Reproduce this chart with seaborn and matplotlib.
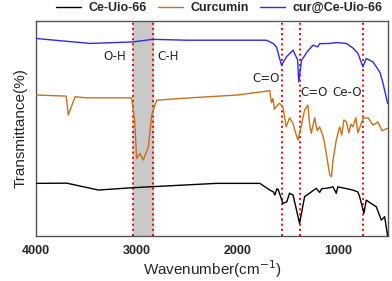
import matplotlib
matplotlib.use("Agg")
import matplotlib.pyplot as plt
import seaborn as sns

# FTIR spectra, values (arbitrary transmittance units)
wn_mof = [4000, 3695, 3380, 3035, 2206, 1775, 1676, 1640, 1626, 1605, 1593, 1546, 1507,
          1480, 1445, 1380, 1330, 1214, 1180, 1160, 1100, 1048, 1015, 1000, 850, 800,
          783, 740, 717, 617, 567, 534, 505]
t_mof = [24.5, 24.6, 21.4, 22.5, 24.5, 24.5, 21.4, 20.5, 19.1, 22.0, 21.7, 15.2, 15.9,
         19.9, 19.1, 5.9, 18.3, 22.2, 20.3, 22.0, 22.3, 22.9, 19.9, 22.9, 21.4, 20.5,
         18.3, 10.6, 16.7, 13.6, 7.4, 9.0, 0.0]

wn_cur = [4000, 3700, 3680, 3612, 3500, 3050, 3020, 3000, 2967, 2934, 2884, 2850, 2802,
          2500, 2000, 1676, 1660, 1645, 1630, 1612, 1580, 1546, 1513, 1480, 1445, 1420,
          1396, 1360, 1330, 1297, 1280, 1264, 1230, 1205, 1181, 1150, 1131, 1080, 1063,
          1048, 1015, 982, 960, 940, 915, 890, 870, 850, 820, 800, 750, 700, 650, 600,
          560, 505]
t_cur = [65.6, 65.1, 56.3, 64.8, 64.3, 64.3, 53.9, 36.1, 38.5, 35.3, 41.5, 56.3, 63.2,
         64.2, 65.6, 67.6, 62.0, 64.0, 59.0, 60.1, 61.8, 60.1, 50.8, 55.0, 52.4, 48.0,
         44.6, 52.0, 58.6, 60.9, 52.0, 47.8, 55.0, 49.0, 50.8, 47.0, 43.1, 28.4, 27.6,
         35.3, 44.6, 50.8, 47.0, 54.0, 53.1, 48.0, 52.0, 50.8, 55.0, 48.0, 54.7, 55.0,
         51.6, 53.0, 49.0, 50.1]

wn_load = [4000, 3464, 3035, 2842, 2500, 1710, 1640, 1610, 1560, 1540, 1510, 1445, 1400,
           1388, 1360, 1300, 1245, 1200, 1180, 1080, 1015, 915, 850, 800, 750, 717, 650,
           617, 580, 550, 505]
t_load = [91.9, 89.6, 90.3, 91.5, 91.1, 91.1, 89.5, 88.0, 79.5, 81.0, 83.4, 86.5, 82.0,
          71.7, 81.8, 86.0, 88.8, 88.0, 89.5, 89.6, 90.0, 89.6, 87.5, 85.0, 78.7, 82.6,
          81.0, 78.7, 76.0, 71.0, 61.7]

series = ["Ce-Uio-66", "Curcumin", "cur@Ce-Uio-66"]
colors = ["black", "#c8711a", "#2b2bf0"]

peaks = [3035, 2840, 1555, 1380, 745]
band = (3035, 2840)
labels = [("O-H", 3215, 83.5), ("C-H", 2690, 83.5), ("C=O", 1715, 73.5),
          ("C=O", 1240, 67), ("Ce-O", 905, 67)]

sns.set_style("white")
plt.rcParams["font.family"] = ["Liberation Sans", "DejaVu Sans"]

fig = plt.figure(figsize=(3.92, 2.81), dpi=100)
ax = fig.add_axes([0.092, 0.16, 0.898, 0.765])

ax.axvspan(band[1], band[0], color="#c9c9c9", zorder=0)
for p in peaks:
    ax.axvline(p, color="red", linestyle=":", lw=1.4, zorder=1)

for wn, t, name, c in zip([wn_mof, wn_cur, wn_load], [t_mof, t_cur, t_load], series, colors):
    sns.lineplot(x=wn, y=t, ax=ax, color=c, lw=1.0, label=name, zorder=3)

for txt, x, y in labels:
    ax.text(x, y, txt, ha="center", va="center", fontsize=8.5, family="DejaVu Sans")

ax.set_xlim(4000, 500)
ax.set_ylim(0, 100)
ax.set_xticks([4000, 3000, 2000, 1000])
ax.set_yticks([])
ax.tick_params(axis="x", direction="out", length=3, width=1, labelsize=9)
for lab in ax.get_xticklabels():
    lab.set_fontweight("bold")
for s in ax.spines.values():
    s.set_color("#555555")
    s.set_linewidth(1)
ax.set_xlabel("Wavenumber(cm$^{-1}$)", fontsize=11, labelpad=1)
ax.set_ylabel("Transmittance(%)", fontsize=11, labelpad=6)

leg = ax.legend(loc="lower center", bbox_to_anchor=(0.52, 0.98), ncol=3, frameon=False,
                handlelength=2.0, columnspacing=0.9, handletextpad=0.6,
                prop={"weight": "bold", "size": 9})

fig.savefig("out.png", dpi=100)
